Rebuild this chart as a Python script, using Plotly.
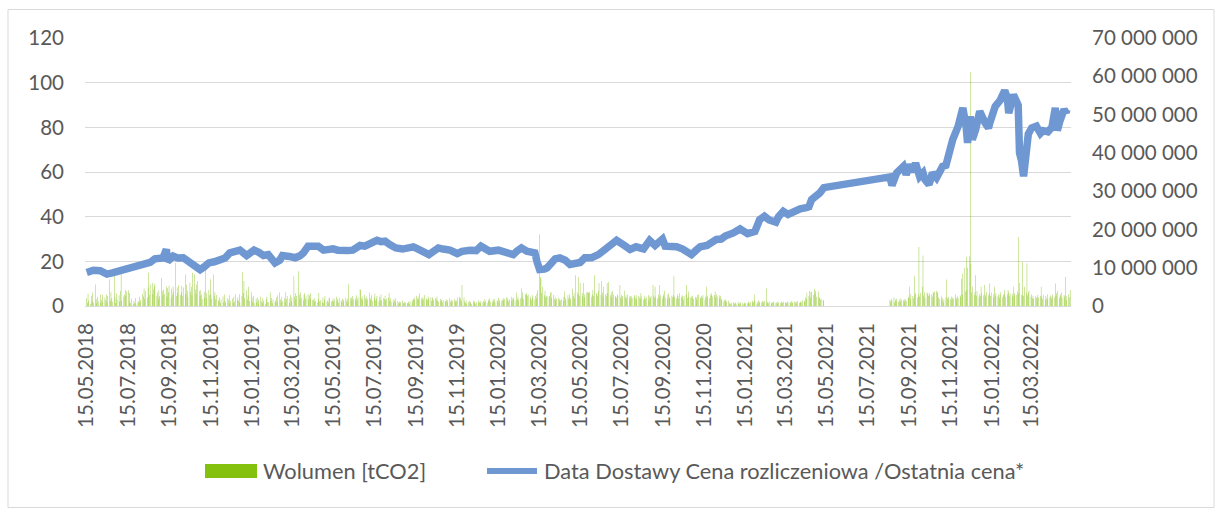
import pandas as pd
import plotly.graph_objects as go

# ---- price series (EUR/tCO2), settlement / last price ----
price_dates = [
    "2018-05-15", "2018-05-25", "2018-06-04", "2018-06-14", "2018-06-22", "2018-07-03", "2018-07-13",
    "2018-07-23", "2018-08-02", "2018-08-13", "2018-08-17", "2018-08-24", "2018-08-31", "2018-09-05",
    "2018-09-10", "2018-09-12", "2018-09-20", "2018-09-27", "2018-10-05", "2018-10-11", "2018-10-18",
    "2018-10-24", "2018-10-30", "2018-11-05", "2018-11-12", "2018-11-20", "2018-11-28", "2018-12-06",
    "2018-12-13", "2018-12-21", "2018-12-28", "2019-01-07", "2019-01-11", "2019-01-18", "2019-01-25",
    "2019-02-01", "2019-02-08", "2019-02-13", "2019-02-18", "2019-02-25", "2019-03-01", "2019-03-11",
    "2019-03-20", "2019-03-27", "2019-04-01", "2019-04-08", "2019-04-15", "2019-04-23", "2019-05-01",
    "2019-05-07", "2019-05-15", "2019-05-22", "2019-05-30", "2019-06-06", "2019-06-13", "2019-06-24",
    "2019-07-01", "2019-07-09", "2019-07-19", "2019-07-25", "2019-07-31", "2019-08-07", "2019-08-16",
    "2019-08-26", "2019-09-03", "2019-09-11", "2019-09-18", "2019-09-27", "2019-10-04", "2019-10-11",
    "2019-10-18", "2019-10-25", "2019-11-04", "2019-11-15", "2019-11-22", "2019-12-04", "2019-12-13",
    "2019-12-20", "2019-12-27", "2020-01-02", "2020-01-15", "2020-01-24", "2020-02-06", "2020-02-11",
    "2020-02-18", "2020-02-26", "2020-03-03", "2020-03-09", "2020-03-12", "2020-03-16", "2020-03-23",
    "2020-03-27", "2020-04-02", "2020-04-08", "2020-04-15", "2020-04-23", "2020-04-30", "2020-05-07",
    "2020-05-15", "2020-05-22", "2020-06-01", "2020-06-11", "2020-06-19", "2020-06-30", "2020-07-08",
    "2020-07-15", "2020-07-20", "2020-07-28", "2020-08-06", "2020-08-17", "2020-08-26", "2020-09-03",
    "2020-09-14", "2020-09-18", "2020-09-28", "2020-10-05", "2020-10-14", "2020-10-22", "2020-10-27",
    "2020-11-03", "2020-11-09", "2020-11-19", "2020-11-25", "2020-12-03", "2020-12-10", "2020-12-16",
    "2020-12-28", "2021-01-07", "2021-01-18", "2021-01-25", "2021-01-29", "2021-02-05", "2021-02-12",
    "2021-02-19", "2021-03-01", "2021-03-05", "2021-03-12", "2021-03-19", "2021-03-29", "2021-04-06",
    "2021-04-15", "2021-04-19", "2021-04-23", "2021-04-29", "2021-05-05", "2021-05-11",
    "2021-08-17", "2021-08-20", "2021-08-27", "2021-09-06", "2021-09-10", "2021-09-15", "2021-09-20",
    "2021-09-24", "2021-09-30", "2021-10-05", "2021-10-08", "2021-10-14", "2021-10-19", "2021-10-25",
    "2021-10-29", "2021-11-03", "2021-11-08", "2021-11-12", "2021-11-18", "2021-11-26", "2021-12-03",
    "2021-12-08", "2021-12-10", "2021-12-14", "2021-12-17", "2021-12-22", "2021-12-28", "2022-01-05",
    "2022-01-10", "2022-01-12", "2022-01-20", "2022-01-27", "2022-02-03", "2022-02-07", "2022-02-09",
    "2022-02-16", "2022-02-23", "2022-02-25", "2022-02-28", "2022-03-03", "2022-03-07", "2022-03-10",
    "2022-03-15", "2022-03-22", "2022-03-28", "2022-04-01", "2022-04-08", "2022-04-14", "2022-04-19",
    "2022-04-21", "2022-04-22", "2022-04-26", "2022-05-02", "2022-05-05", "2022-05-06", "2022-05-11",
]
price_values = [
    15.0, 16.0, 15.8, 14.3, 14.8, 15.6, 16.5,
    17.8, 18.0, 18.6, 19.5, 21.1, 21.0, 21.5,
    25.3, 20.0, 22.3, 21.5, 21.6, 20.5, 19.3,
    17.5, 16.3, 17.5, 19.3, 19.8, 20.8, 21.5,
    23.8, 24.6, 25.0, 22.6, 23.5, 25.0, 24.0,
    22.6, 23.0, 21.0, 19.3, 20.5, 22.6, 22.2,
    21.6, 22.5, 23.8, 26.8, 27.0, 26.8, 25.0,
    25.5, 25.6, 25.0, 24.5, 24.8, 25.0, 27.1,
    26.8, 27.8, 29.4, 28.8, 29.0, 27.5, 26.0,
    25.5, 25.7, 26.5, 25.5, 24.0, 23.0, 24.5,
    26.0, 25.5, 25.0, 23.5, 24.5, 25.0, 24.8,
    26.8, 26.0, 24.5, 25.0, 24.0, 23.0, 24.5,
    26.0, 24.5, 24.0, 23.8, 20.0, 16.3, 16.5,
    17.1, 19.0, 21.1, 21.5, 20.5, 18.6, 19.0,
    19.5, 21.6, 21.6, 23.0, 25.3, 27.5, 29.4,
    28.5, 27.0, 25.3, 26.5, 25.6, 29.4, 27.1,
    30.0, 26.8, 26.8, 26.5, 25.5, 24.0, 23.0,
    25.0, 26.5, 27.1, 28.5, 29.8, 30.0, 31.3,
    32.7, 34.5, 32.4, 33.0, 33.4, 38.7, 40.2,
    38.5, 37.5, 40.0, 42.4, 41.0, 42.5, 43.5,
    44.0, 44.4, 47.7, 49.0, 50.6, 53.0,
    57.8, 54.0, 59.6, 62.5, 58.8, 63.3, 60.0,
    64.0, 58.0, 59.6, 56.6, 54.4, 59.6, 57.4,
    60.3, 62.5, 63.0, 68.5, 74.5, 80.4, 88.7,
    80.0, 73.0, 84.9, 74.5, 79.0, 87.2, 82.0,
    79.7, 82.0, 89.4, 92.0, 96.5, 93.0, 86.4,
    94.6, 90.0, 68.5, 65.0, 58.1, 75.3, 77.0,
    79.7, 80.5, 77.3, 78.5, 78.0, 80.0, 88.7,
    82.0, 78.6, 83.0, 88.0, 86.5, 87.9,
]

# ---- daily traded volume, million tCO2 (trading days) ----
vol_a_period = ("2018-05-15", "2021-05-11")
vol_a_mln = [
    2.1, 0.8, 3.2, 1.4, 0.6, 2.7, 1.1, 3.5, 0.9, 5.6, 1.8, 0.7, 2.4, 1.2, 3.0, 0.8, 1.6, 2.9, 1.0, 2.2,
    1.5, 3.1, 0.9, 2.6, 7.0, 1.3, 3.6, 2.0, 1.1, 8.2, 2.4, 0.8, 3.3, 1.7, 2.8, 1.2, 3.9, 8.7, 1.4, 2.5,
    3.0, 4.2, 2.6, 3.8, 4.1, 3.4, 1.2, 0.7, 1.9, 0.5, 1.4, 0.8, 2.1, 0.6, 1.3, 1.0, 2.4, 0.9, 1.6, 3.2,
    2.5, 4.6, 1.8, 3.9, 2.2, 4.8, 8.7, 2.9, 5.6, 3.1, 6.0, 4.4, 5.2, 5.8, 2.7, 3.5, 1.9, 4.1, 2.6, 7.4,
    4.0, 2.8, 4.3, 3.2, 5.1, 2.4, 4.7, 3.6, 5.3, 2.1, 4.5, 3.0, 5.0, 3.8, 11.3, 2.6, 4.9, 3.3, 5.4, 2.9,
    3.6, 5.2, 2.7, 4.8, 8.2, 3.1, 5.5, 4.0, 2.4, 6.1, 3.7, 5.0, 2.9, 8.7, 8.2, 4.4, 3.2, 5.6, 6.5, 3.9,
    2.6, 4.1, 3.0, 1.8, 3.7, 2.3, 10.4, 3.4, 2.0, 4.2, 2.8, 7.0, 3.1, 1.9, 8.2, 2.5, 3.6, 1.7, 2.9, 1.5,
    1.2, 2.3, 0.8, 1.7, 2.5, 1.0, 3.0, 1.4, 0.9, 2.1, 1.6, 0.7, 2.8, 1.3, 1.9, 0.8, 2.4, 1.1, 3.1, 1.5,
    2.2, 1.4, 3.1, 0.9, 2.6, 8.9, 3.4, 6.5, 2.0, 4.1, 1.6, 2.8, 5.0, 1.3, 3.6, 2.3, 1.1, 2.7, 0.8, 1.9,
    1.0, 2.2, 0.7, 1.6, 2.5, 1.2, 0.8, 2.0, 1.4, 0.6, 1.8, 2.4, 1.1, 0.9, 3.5, 1.3, 2.1, 0.7, 1.7, 1.0,
    1.5, 2.3, 1.0, 2.8, 3.5, 1.7, 0.9, 2.4, 1.3, 2.0, 1.1, 3.6, 1.8, 2.6, 0.8, 1.9, 2.9, 1.2, 2.2, 7.8,
    2.4, 3.3, 1.6, 2.7, 9.1, 3.0, 1.8, 3.5, 2.2, 1.5, 2.9, 3.4, 1.9, 2.5, 3.1, 1.7, 2.8, 2.0, 3.3, 1.6,
    1.6, 1.1, 2.0, 1.3, 0.9, 1.8, 3.4, 1.2, 1.5, 1.0, 2.2, 0.8, 1.7, 2.6, 1.1, 1.4, 0.9, 1.9, 2.3, 1.3,
    1.4, 2.0, 1.1, 1.7, 2.4, 1.2, 1.8, 0.9, 2.1, 1.5, 1.0, 1.9, 1.6, 1.1, 2.2, 1.3, 1.8, 1.0, 5.7, 2.0,
    2.2, 1.5, 2.6, 1.8, 2.0, 1.4, 2.8, 1.7, 2.3, 4.4, 4.1, 1.9, 2.5, 1.6, 2.9, 2.1, 1.5, 2.4, 1.8, 3.5,
    2.0, 1.6, 2.8, 1.3, 2.2, 3.2, 1.5, 1.9, 2.6, 1.2, 2.4, 1.7, 3.0, 1.4, 2.1, 1.8, 2.7, 1.5, 1.9, 2.3,
    3.3, 1.4, 2.0, 1.1, 1.7, 0.9, 1.5, 2.1, 1.0, 1.3, 0.8, 1.2, 0.7, 1.0, 1.4, 0.8, 0.6, 1.1, 0.9, 0.7,
    0.8, 1.1, 0.6, 1.3, 0.9, 1.5, 1.8, 2.2, 1.6, 2.7, 1.9, 2.4, 1.7, 3.3, 2.0, 1.5, 2.3, 1.8, 2.9, 1.6,
    2.0, 1.6, 2.4, 1.8, 2.2, 1.3, 2.3, 1.9, 1.5, 2.1, 1.7, 2.4, 1.4, 1.1, 1.8, 1.3, 1.6, 1.0, 1.5, 1.2,
    1.3, 1.7, 1.0, 1.5, 2.0, 1.2, 1.6, 0.9, 1.4, 1.8, 1.1, 1.5, 1.3, 2.2, 2.4, 1.6, 2.1, 1.4, 5.5, 2.2,
    1.2, 0.8, 1.5, 0.6, 1.0, 1.3, 0.7, 1.1, 0.5, 1.4, 0.9, 1.2, 0.6, 1.0, 1.5, 0.8, 1.1, 0.7, 1.3, 0.9,
    1.4, 1.0, 1.8, 1.2, 0.8, 1.6, 1.3, 2.0, 1.1, 0.9, 1.7, 1.4, 1.9, 1.0, 1.5, 1.2, 2.1, 0.9, 1.6, 1.3,
    1.6, 2.0, 1.4, 1.8, 2.3, 1.5, 2.1, 1.2, 1.7, 2.4, 1.3, 1.9, 2.2, 1.6, 1.4, 3.5, 1.8, 2.4, 1.5, 2.0,
    4.6, 2.2, 3.5, 1.8, 3.1, 2.9, 3.3, 2.7, 3.0, 1.9, 2.4, 1.6, 2.8, 2.1, 1.7, 2.6, 2.0, 3.2, 4.1, 18.7,
    7.6, 7.2, 3.4, 5.0, 2.8, 4.0, 2.3, 2.5, 2.7, 2.4, 2.6, 3.5, 3.6, 2.1, 2.9, 1.8, 2.4, 1.5, 1.9, 2.2,
    1.8, 1.2, 1.5, 1.7, 1.4, 2.4, 3.8, 2.1, 1.6, 2.8, 1.9, 3.1, 2.2, 1.7, 4.5, 2.6, 3.3, 2.0, 8.0, 3.6,
    3.0, 7.6, 2.7, 6.0, 3.4, 2.5, 6.0, 3.1, 2.2, 3.5, 3.7, 3.3, 3.6, 3.5, 2.4, 3.0, 4.2, 2.6, 8.0, 3.2,
    3.3, 2.6, 4.0, 6.0, 2.9, 6.5, 3.5, 2.4, 5.0, 3.1, 2.7, 6.0, 3.4, 6.3, 2.8, 3.6, 2.3, 4.0, 3.0, 2.5,
    2.5, 2.1, 3.0, 2.7, 5.5, 2.3, 2.9, 1.9, 2.6, 4.0, 2.2, 2.8, 2.0, 3.0, 2.4, 1.8, 2.7, 2.5, 2.1, 2.9,
    2.4, 2.0, 2.8, 1.7, 2.6, 2.2, 1.9, 3.3, 2.5, 1.6, 2.0, 2.7, 1.8, 2.3, 2.9, 1.5, 2.4, 2.1, 2.6, 5.5,
    2.7, 2.1, 5.0, 2.5, 1.9, 3.0, 2.3, 5.5, 2.8, 2.0, 2.6, 3.1, 4.0, 2.2, 1.8, 2.9, 3.3, 2.4, 2.0, 2.7,
    2.3, 2.9, 7.8, 2.4, 2.0, 3.1, 2.6, 1.9, 3.3, 2.5, 2.2, 2.8, 1.7, 2.6, 3.0, 5.5, 2.1, 2.4, 3.8, 2.2,
    2.5, 2.0, 2.7, 1.8, 2.4, 2.2, 1.6, 2.9, 3.0, 2.3, 1.9, 2.6, 2.1, 2.8, 1.7, 2.4, 5.0, 2.2, 2.7, 2.0,
    3.0, 2.6, 3.3, 2.4, 2.9, 3.8, 2.2, 3.1, 2.5, 2.8, 2.0, 2.7, 1.9, 1.5, 1.2, 1.6, 1.3, 1.7, 1.1, 1.4,
    0.6, 0.9, 0.5, 0.8, 1.0, 0.4, 0.7, 0.9, 0.6, 1.1, 0.5, 0.8, 0.6, 1.0, 0.7, 0.4, 0.9, 0.6, 0.8, 0.7,
    0.9, 1.2, 0.7, 1.0, 1.4, 0.8, 1.1, 3.0, 1.3, 0.6, 1.0, 1.5, 0.8, 1.2, 0.9, 1.4, 0.7, 1.1, 1.3, 4.6,
    0.8, 1.1, 0.7, 1.2, 0.9, 0.6, 1.0, 0.8, 1.2, 0.7, 0.9, 1.1, 0.6, 1.0, 0.8, 1.2, 0.7, 0.9, 1.1, 0.8,
    1.0, 0.7, 1.2, 0.9, 1.1, 0.8, 1.3, 0.7, 1.0, 1.2, 0.9, 0.6, 1.1, 1.3, 0.8, 1.0, 1.2, 0.9, 1.5, 1.1,
    1.5, 2.3, 1.8, 3.5, 2.6, 3.9, 2.2, 3.7, 3.6, 2.9, 4.5, 3.2, 4.0, 2.4, 3.8, 2.0, 2.3, 1.6, 1.9, 1.5,
    1.5,
]
vol_b_period = ("2021-08-17", "2022-05-11")
vol_b_mln = [
    1.6, 1.2, 1.8, 1.4, 2.3, 1.0, 1.7, 1.3, 1.9, 1.1, 1.5, 2.0, 1.2, 1.6, 1.4, 1.8, 1.1, 1.7, 1.3, 2.1,
    2.4, 5.0, 1.9, 3.1, 2.6, 2.0, 7.8, 2.8, 3.4, 2.2, 3.0, 15.4, 2.5, 3.3, 5.0, 13.2, 2.7, 3.6, 2.1, 3.5,
    3.2, 2.6, 3.4, 2.9, 3.1, 2.4, 3.6, 3.3, 3.8, 4.0, 3.5, 3.6, 2.2, 1.8, 2.5, 1.5, 2.0, 1.0, 1.7, 2.3,
    6.9, 2.1, 1.6, 2.4, 1.8, 2.5, 1.5, 2.2, 1.9, 3.0, 2.3, 1.7, 2.5, 2.0, 2.8, 2.4, 7.1, 3.0, 8.4, 10.0,
    3.8, 12.8, 4.2, 10.0, 13.0, 61.2, 11.0, 3.5, 5.0, 2.9, 3.6, 8.0, 2.7, 3.9, 2.4, 3.1, 2.6, 5.0, 3.3, 2.8,
    5.5, 3.0, 2.4, 3.7, 2.8, 3.3, 5.9, 2.6, 3.5, 2.2, 3.1, 5.0, 2.7, 3.4, 2.5, 3.0, 2.0, 2.9, 3.6, 2.3,
    2.8, 3.2, 4.2, 2.5, 3.0, 4.2, 3.5, 2.7, 3.3, 2.4, 3.1, 5.0, 2.6, 3.4, 2.9, 3.7, 18.0, 3.2, 6.0, 2.8,
    11.5, 3.0, 2.6, 5.0, 3.3, 11.1, 2.8, 3.5, 4.0, 2.4, 3.1, 2.0, 2.7, 1.8, 2.5, 2.2, 1.9, 2.9, 2.3, 2.6,
    5.0, 2.4, 1.8, 2.9, 1.5, 2.6, 2.0, 3.1, 1.7, 2.3, 2.8, 1.9, 2.5, 3.0, 2.2, 5.9, 2.6, 3.3, 4.0, 2.1,
    2.7, 3.0, 3.5, 2.2, 2.9, 2.4, 7.6, 2.6, 1.5, 3.1, 2.3, 4.2,
]

price_ticks = [0, 20, 40, 60, 80, 100, 120]
volume_ticks = [0, 10e6, 20e6, 30e6, 40e6, 50e6, 60e6, 70e6]

legend_labels = ["Wolumen [tCO2]", "Data Dostawy Cena rozliczeniowa /Ostatnia cena*"]

# ---- trading-day calendar for the volume bars ----
days_a = pd.bdate_range(*vol_a_period)
days_b = pd.bdate_range(*vol_b_period)
n_a = min(len(days_a), len(vol_a_mln))
n_b = min(len(days_b), len(vol_b_mln))
vol_dates = list(days_a[:n_a]) + list(days_b[:n_b])
vol_values = [v * 1e6 for v in vol_a_mln[:n_a] + vol_b_mln[:n_b]]

# ---- styling ----
FONT = "Lato"
TXT = "#595959"
GRID = "#d9d9d9"
GREEN = "#84c10f"
BLUE = "#6f97d2"
W, H = 1215, 509
PL, PR, PT, PB = 85, 1071, 38, 306   # plot area in pixels


def fx(px):
    return (px - PL) / (PR - PL)


def fy(py):
    return (PB - py) / (PB - PT)


fig = go.Figure()

# volume bars sit on the primary (right-hand) axis so the price line overlays them
fig.add_trace(go.Bar(
    x=vol_dates, y=vol_values, name=legend_labels[0],
    marker=dict(color="rgba(132,193,15,0.99)", line=dict(width=0)),
    width=86400000 * 0.6, yaxis="y", showlegend=False,
))
fig.add_trace(go.Scatter(
    x=pd.to_datetime(price_dates), y=price_values, name=legend_labels[1],
    mode="lines", line=dict(color=BLUE, width=7.5), yaxis="y2", showlegend=False,
))

tickfont = dict(family=FONT, size=20.5, color=TXT)

fig.update_layout(
    width=W, height=H,
    margin=dict(l=PL, r=W - PR, t=PT, b=H - PB),
    paper_bgcolor="white", plot_bgcolor="white",
    separators=", ",
    bargap=0.1,
    showlegend=False,
    xaxis=dict(
        type="date",
        range=["2018-05-12 12:00", "2022-05-12 06:00"],
        tick0="2018-05-15", dtick="M2", tickformat="%d.%m.%Y",
        tickangle=-90, tickfont=tickfont,
        showgrid=False, showline=False, zeroline=False, ticks="",
        ticklabelstandoff=12,
    ),
    yaxis=dict(
        side="right", range=[0, 70e6], tickvals=volume_ticks, tickformat=",d",
        tickfont=tickfont, showgrid=False, zeroline=False, showline=False, ticks="",
        ticklabelstandoff=20,
    ),
    yaxis2=dict(
        side="left", overlaying="y", range=[0, 120], tickvals=price_ticks,
        tickfont=tickfont, showgrid=True, gridcolor=GRID, gridwidth=1.3,
        zeroline=True, zerolinecolor=GRID, zerolinewidth=1.3,
        showline=False, ticks="", ticklabelstandoff=20,
    ),
)

shapes = [
    # chart area border
    dict(type="rect", xref="paper", yref="paper",
         x0=fx(8), x1=fx(1214), y0=fy(507.5), y1=fy(9.5),
         line=dict(color=GRID, width=1), fillcolor="rgba(0,0,0,0)", layer="below"),
    # legend swatches
    dict(type="rect", xref="paper", yref="paper",
         x0=fx(205), x1=fx(257), y0=fy(478), y1=fy(464),
         line=dict(width=0), fillcolor=GREEN),
    dict(type="line", xref="paper", yref="paper",
         x0=fx(487), x1=fx(537), y0=fy(471), y1=fy(471),
         line=dict(color=BLUE, width=6)),
]
fig.update_layout(shapes=shapes)

legend_font = dict(family=FONT, size=21.8, color=TXT)
fig.add_annotation(xref="paper", yref="paper", x=fx(261), y=fy(471),
                   xanchor="left", yanchor="middle", showarrow=False,
                   text=legend_labels[0], font=legend_font)
fig.add_annotation(xref="paper", yref="paper", x=fx(542), y=fy(471),
                   xanchor="left", yanchor="middle", showarrow=False,
                   text=legend_labels[1], font=legend_font)

fig.write_html("out.html")
